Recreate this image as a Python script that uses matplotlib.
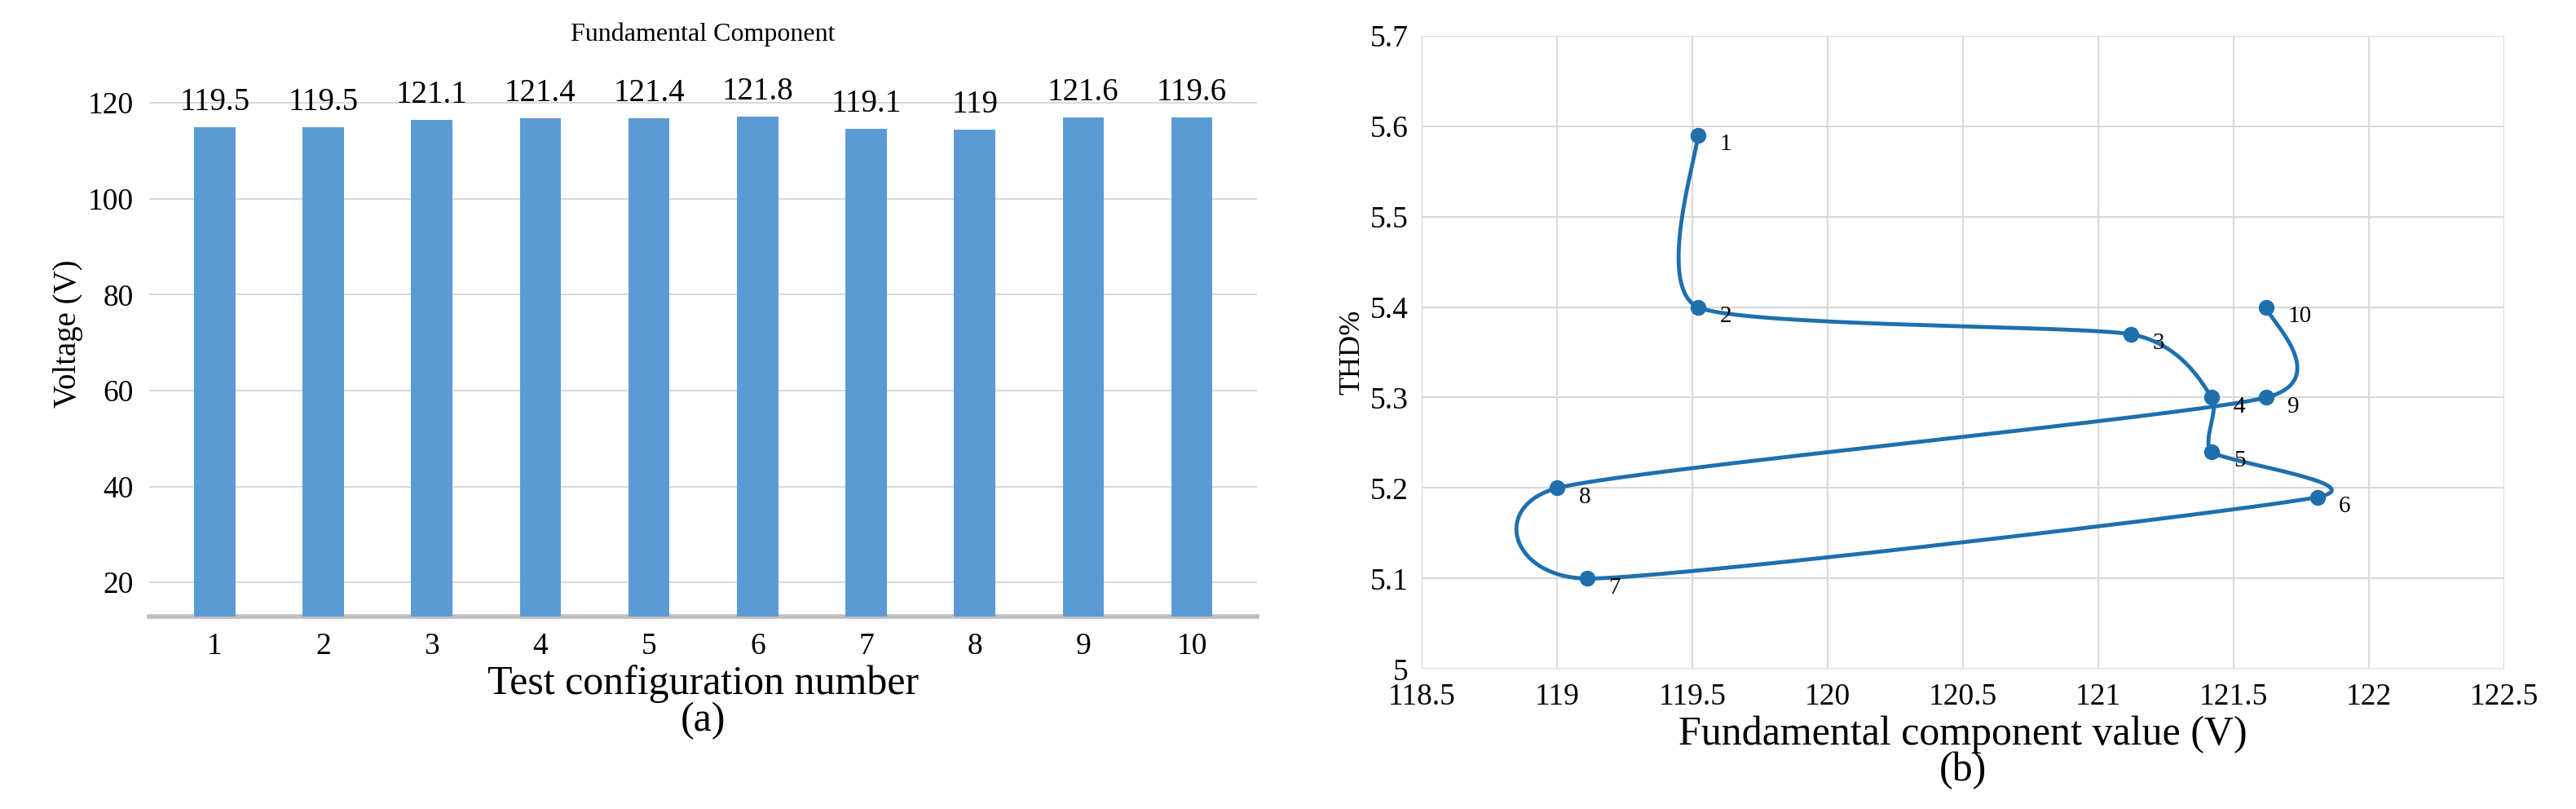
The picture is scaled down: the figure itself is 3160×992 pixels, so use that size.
import numpy as np
import matplotlib.pyplot as plt

plt.rcParams['font.family'] = ['Liberation Serif', 'DejaVu Serif']

configs = [1, 2, 3, 4, 5, 6, 7, 8, 9, 10]
voltage = [119.5, 119.5, 121.1, 121.4, 121.4, 121.8, 119.1, 119, 121.6, 119.6]
# bar heights as drawn (bars look slightly lower than their labels)
bar_heights = [115, 115, 116.5, 116.8, 116.8, 117.2, 114.6, 114.4, 117, 117]
thd = [5.59, 5.40, 5.37, 5.30, 5.24, 5.19, 5.10, 5.20, 5.30, 5.40]
fund = [119.52, 119.52, 121.12, 121.42, 121.42, 121.81, 119.11, 119.0, 121.62, 121.62]

BLUE = '#5b9bd5'
LINE = '#1f6fad'


def smooth_curve(xs, ys, n=40, k=0.6):
    # cubic hermite through the points, tangents scaled down a bit
    pts = np.column_stack([xs, ys]).astype(float)
    ext = np.vstack([pts[0], pts, pts[-1]])
    tang = k * 0.5 * (ext[2:] - ext[:-2])
    out = []
    t = np.linspace(0, 1, n)[:, None]
    h00 = 2 * t ** 3 - 3 * t ** 2 + 1
    h10 = t ** 3 - 2 * t ** 2 + t
    h01 = -2 * t ** 3 + 3 * t ** 2
    h11 = t ** 3 - t ** 2
    for i in range(len(pts) - 1):
        out.append(h00 * pts[i] + h10 * tang[i] + h01 * pts[i + 1] + h11 * tang[i + 1])
    return np.vstack(out)


fig = plt.figure(figsize=(31.6, 9.92), dpi=100)

ax = fig.add_axes([0.058, 0.238, 0.43, 0.70])
ax.bar(configs, bar_heights, width=0.38, color=BLUE, zorder=3)
for x, h, v in zip(configs, bar_heights, voltage):
    ax.text(x, h + 2, f'{v:g}', ha='center', va='bottom', fontsize=28)
ax.set_ylim(12.9, 131)
ax.set_xlim(0.4, 10.6)
ax.set_yticks(range(20, 121, 20))
ax.set_xticks(configs)
ax.grid(axis='y', color='#d9d9d9', lw=1.5, zorder=0)
for s in ['top', 'right', 'left']:
    ax.spines[s].set_visible(False)
ax.spines['bottom'].set_color('#bfbfbf')
ax.spines['bottom'].set_linewidth(4)
ax.tick_params(length=0, labelsize=27, pad=14)
ax.set_ylabel('Voltage (V)', fontsize=28)
ax.set_xlabel('Test configuration number\n(a)', fontsize=36, linespacing=0.95)
ax.set_title('Fundamental Component', fontsize=23, pad=8)

bx = fig.add_axes([0.552, 0.173, 0.42, 0.783])
curve = smooth_curve(fund, thd)
bx.plot(curve[:, 0], curve[:, 1], color=LINE, lw=3.5, zorder=3)
bx.plot(fund, thd, 'o', color=LINE, ms=13, zorder=4)
for i, (x, y) in enumerate(zip(fund, thd), start=1):
    bx.text(x + 0.08, y - 0.01, str(i), fontsize=21, va='center')
bx.set_xlim(118.5, 122.5)
bx.set_ylim(5.0, 5.7)
bx.set_xticks(np.arange(118.5, 122.51, 0.5))
bx.set_xticklabels([f'{v:g}' for v in np.arange(118.5, 122.51, 0.5)])
bx.set_yticks(np.arange(5.0, 5.71, 0.1))
bx.set_yticklabels([f'{v:.1f}'.rstrip('0').rstrip('.') for v in np.arange(5.0, 5.71, 0.1)])
bx.grid(color='#d9d9d9', lw=1.5, zorder=0)
for s in bx.spines.values():
    s.set_visible(False)
bx.tick_params(length=0, labelsize=27, pad=12)
bx.set_ylabel('THD%', fontsize=26)
bx.set_xlabel('Fundamental component value (V)\n(b)', fontsize=36, linespacing=0.95)

fig.savefig('out.png')
